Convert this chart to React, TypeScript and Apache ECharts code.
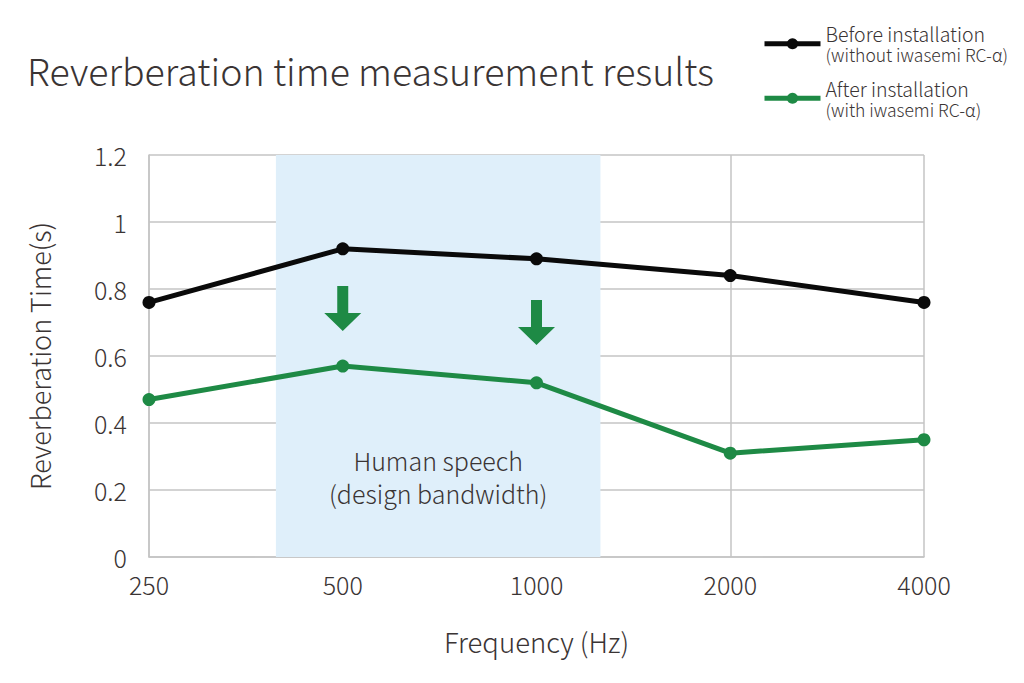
import React, { useEffect, useRef } from "react";
import * as echarts from "echarts";

const frequencies = ["250", "500", "1000", "2000", "4000"];
const beforeValues = [0.76, 0.92, 0.89, 0.84, 0.76];
const afterValues = [0.47, 0.57, 0.52, 0.31, 0.35];
const yTicks = { min: 0, max: 1.2, interval: 0.2 };
const speechBand = [0.655, 2.33];
const arrowMarks = [
  [1, 0.742],
  [2, 0.7],
];

const FONT = "'Noto Sans CJK JP', 'Noto Sans', sans-serif";
const TEXT = "#3a3434";
const GREEN = "#1e8a45";
const BLACK = "#0a0a0a";
const GRIDC = "#c4c4c4";

export default function App() {
  const ref = useRef<HTMLDivElement>(null);
  useEffect(() => {
    document.body.style.margin = "0";
    const chart = echarts.init(ref.current!, null, { renderer: "svg" });
    const idx = frequencies.map((_, i) => i);
    chart.setOption({
      animation: false,
      backgroundColor: "#ffffff",
      textStyle: { fontFamily: FONT },
      title: {
        text: "Reverberation time measurement results",
        left: 22,
        top: 46,
        textStyle: { fontFamily: FONT, fontWeight: 300, fontSize: 37.5, color: TEXT },
      },
      legend: {
        orient: "vertical",
        left: 762,
        top: 24,
        padding: 0,
        itemWidth: 56,
        itemHeight: 14,
        itemGap: 15,
        lineStyle: { width: 5 },
        data: ["before", "after"],
        formatter: (name: string) =>
          name === "before"
            ? "{a|Before installation}\n{b|(without iwasemi RC-α)}"
            : "{a|After installation}\n{b|(with iwasemi RC-α)}",
        textStyle: {
          fontFamily: FONT,
          color: TEXT,
          rich: {
            a: { fontFamily: FONT, fontWeight: 300, fontSize: 19.5, color: TEXT, lineHeight: 22 },
            b: { fontFamily: FONT, fontWeight: 300, fontSize: 17.5, color: TEXT, lineHeight: 20 },
          },
        },
      },
      grid: { left: 149, right: 100, top: 155, bottom: 126 },
      xAxis: {
        type: "value",
        min: 0,
        max: frequencies.length - 1,
        interval: 1,
        name: "Frequency (Hz)",
        nameLocation: "middle",
        nameGap: 70,
        nameTextStyle: { fontFamily: FONT, fontWeight: 300, fontSize: 27.5, color: TEXT },
        axisLine: { show: true, lineStyle: { color: GRIDC, width: 1.5 } },
        axisTick: { show: false },
        axisLabel: {
          margin: 14,
          fontFamily: FONT,
          fontWeight: 300,
          fontSize: 25,
          color: TEXT,
          formatter: (v: number) => frequencies[Math.round(v)] ?? "",
        },
        splitLine: { show: true, lineStyle: { color: GRIDC, width: 1.5 } },
      },
      yAxis: {
        type: "value",
        min: yTicks.min,
        max: yTicks.max,
        interval: yTicks.interval,
        name: "Reverberation Time(s)",
        nameLocation: "middle",
        nameGap: 96,
        nameTextStyle: { fontFamily: FONT, fontWeight: 300, fontSize: 27, color: TEXT },
        axisLine: { show: true, lineStyle: { color: GRIDC, width: 1.5 } },
        axisTick: { show: false },
        axisLabel: {
          margin: 22,
          fontFamily: FONT,
          fontWeight: 300,
          fontSize: 25,
          color: TEXT,
          formatter: (v: number) => String(Math.round(v * 10) / 10),
        },
        splitLine: { show: true, lineStyle: { color: GRIDC, width: 1.5 } },
      },
      series: [
        {
          name: "speech",
          type: "line",
          data: [],
          z: 0,
          markArea: {
            silent: true,
            itemStyle: { color: "#dfeffa" },
            label: {
              show: true,
              position: ["50%", "80%"],
              align: "center",
              verticalAlign: "middle",
              fontFamily: FONT,
              fontWeight: 300,
              fontSize: 25,
              lineHeight: 33,
              color: TEXT,
              formatter: "Human speech\n(design bandwidth)",
            },
            data: [[{ xAxis: speechBand[0] }, { xAxis: speechBand[1] }]],
          },
        },
        {
          name: "before",
          type: "line",
          data: idx.map((i) => [i, beforeValues[i]]),
          symbol: "circle",
          symbolSize: 13,
          lineStyle: { color: BLACK, width: 5 },
          itemStyle: { color: BLACK },
          z: 3,
        },
        {
          name: "after",
          type: "line",
          data: idx.map((i) => [i, afterValues[i]]),
          symbol: "circle",
          symbolSize: 13,
          lineStyle: { color: GREEN, width: 5 },
          itemStyle: { color: GREEN },
          z: 3,
          markPoint: {
            silent: true,
            symbol: "path://M13,0 H24 V27 H37 L18.5,45 L0,27 H13 Z",
            symbolSize: [37, 45],
            symbolKeepAspect: false,
            itemStyle: { color: GREEN },
            label: { show: false },
            data: arrowMarks.map((c) => ({ coord: c })),
          },
        },
      ],
    });
    return () => chart.dispose();
  }, []);
  return <div ref={ref} style={{ width: 1024, height: 683 }} />;
}
